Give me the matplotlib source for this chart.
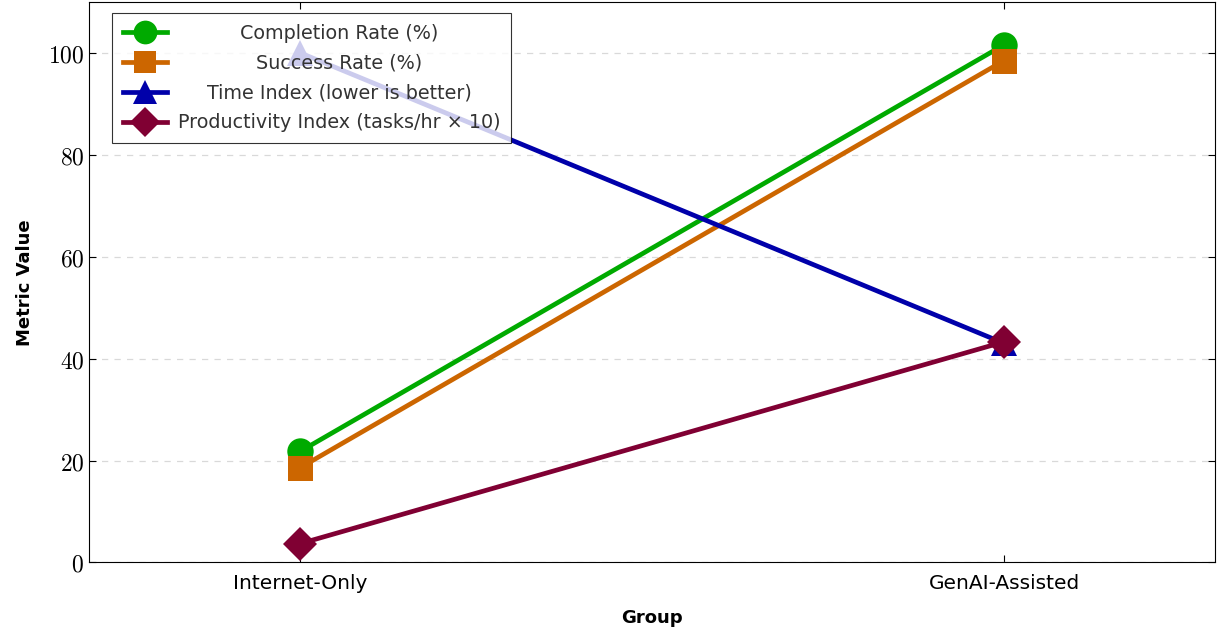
import numpy as np
import matplotlib.pyplot as plt

# data
groups = ['Internet-Only', 'GenAI-Assisted']
completion = [21.8, 101.6]
success = [18.6, 98.5]
time_index = [100.0, 43.0]
productivity = [3.7, 43.3]

plt.rcParams['font.family'] = 'DejaVu Sans'
plt.rcParams['mathtext.fontset'] = 'cm'

fig, ax = plt.subplots(figsize=(12.19, 6.37), dpi=100)
x = np.arange(len(groups))

series = [
    (completion, 'Completion Rate (%)', '#00AA00', 'o', 19),
    (success, 'Success Rate (%)', '#CC6600', 's', 18),
    (time_index, 'Time Index (lower is better)', '#0000AA', '^', 19),
    (productivity, 'Productivity Index (tasks/hr \u00d7 10)', '#800033', 'D', 17),
]
for vals, label, color, marker, ms in series:
    ax.plot(x, vals, color=color, marker=marker, markersize=ms, linewidth=3.4,
            label=label, markeredgewidth=0)

ax.set_xlim(-0.3, 1.3)
ax.set_ylim(0, 110)
ax.set_xticks(x)
ax.set_xticklabels(groups, fontsize=14.5)
yt = [0, 20, 40, 60, 80, 100]
ax.set_yticks(yt)
ax.set_yticklabels(['$%d$' % v for v in yt], fontsize=17)
ax.tick_params(direction='in', top=True, right=True, length=5, width=0.8)
ax.tick_params(axis='x', pad=8)
ax.grid(axis='y', color='#d9d9d9', linestyle=(0, (5, 5)), linewidth=0.9)
ax.set_axisbelow(True)

ax.set_xlabel('Group', fontsize=13, fontweight='bold', labelpad=12)
ax.set_ylabel('Metric Value', fontsize=13, fontweight='bold', labelpad=10)

leg = ax.legend(loc='upper left', bbox_to_anchor=(0.0204, 0.980), borderaxespad=0,
                fontsize=13.8, fancybox=False, edgecolor='black',
                framealpha=0.8, handlelength=2.3, borderpad=0.55,
                labelspacing=0.57, markerscale=0.9, handletextpad=0.6)
leg.get_frame().set_linewidth(0.8)
for t in leg.get_texts():
    t.set_color('#333333')

# centre the legend labels inside the text column
fig.canvas.draw()
renderer = fig.canvas.get_renderer()
widths = [t.get_window_extent(renderer).width for t in leg.get_texts()]
wmax = max(widths)
for t, w in zip(leg.get_texts(), widths):
    t.set_x((wmax - w) / 2)

plt.subplots_adjust(left=0.073, right=0.997, top=0.997, bottom=0.117)
plt.savefig('out.png', dpi=100)
